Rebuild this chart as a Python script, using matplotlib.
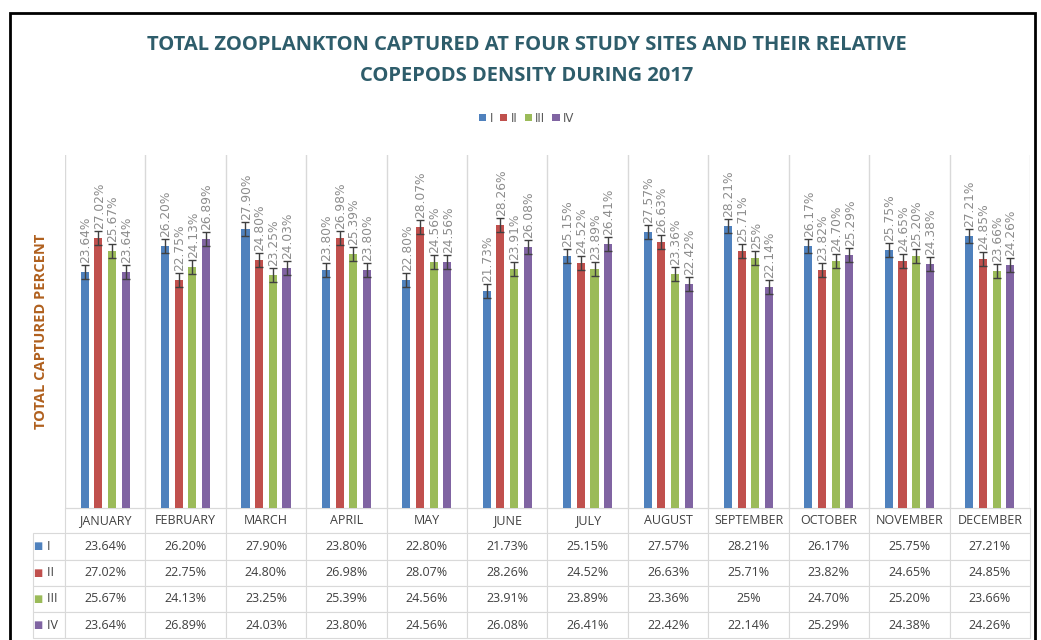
import numpy as np
import matplotlib
matplotlib.use("Agg")
import matplotlib.pyplot as plt
from matplotlib import font_manager
from matplotlib.patches import Rectangle
from matplotlib.table import Table

months = ["JANUARY", "FEBRUARY", "MARCH", "APRIL", "MAY", "JUNE", "JULY",
          "AUGUST", "SEPTEMBER", "OCTOBER", "NOVEMBER", "DECEMBER"]
sites = ["I", "II", "III", "IV"]
site_i = [23.64, 26.20, 27.90, 23.80, 22.80, 21.73, 25.15, 27.57, 28.21, 26.17, 25.75, 27.21]
site_ii = [27.02, 22.75, 24.80, 26.98, 28.07, 28.26, 24.52, 26.63, 25.71, 23.82, 24.65, 24.85]
site_iii = [25.67, 24.13, 23.25, 25.39, 24.56, 23.91, 23.89, 23.36, 25.00, 24.70, 25.20, 23.66]
site_iv = [23.64, 26.89, 24.03, 23.80, 24.56, 26.08, 26.41, 22.42, 22.14, 25.29, 24.38, 24.26]
# labels as printed in the chart (September III shows "25%")
labels_iii = ["25.67%", "24.13%", "23.25%", "25.39%", "24.56%", "23.91%", "23.89%",
              "23.36%", "25%", "24.70%", "25.20%", "23.66%"]
err = 0.7

colors = ["#4F81BD", "#C0504D", "#9BBB59", "#8064A2"]


def pick(names):
    have = {f.name for f in font_manager.fontManager.ttflist}
    for n in names:
        if n in have:
            return n
    return "DejaVu Sans"


narrow = pick(["Liberation Sans Narrow", "Open Sans", "Lato"])
title_font = pick(["Open Sans", "Lato"])

series = [site_i, site_ii, site_iii, site_iv]
fmt = lambda v: "%.2f%%" % v
labels = [[fmt(v) for v in site_i], [fmt(v) for v in site_ii], labels_iii,
          [fmt(v) for v in site_iv]]

fig = plt.figure(figsize=(10.41, 6.4), dpi=100)
ax = fig.add_axes([0.0624, 0.206, 0.927, 0.552])

x = np.arange(len(months))
step = 0.17
width = 0.1
for k, vals in enumerate(series):
    pos = x + (k - 1.5) * step
    ax.bar(pos, vals, width, color=colors[k], label=sites[k], zorder=3)
    ax.errorbar(pos, vals, yerr=err, fmt="none", ecolor="#404040",
                elinewidth=1, capsize=3, capthick=1, zorder=4)
    for p, v, t in zip(pos, vals, labels[k]):
        ax.text(p + 0.01, v + err + 0.2, t, rotation=90, ha="center", va="bottom",
                fontsize=8.8, color="#8C8C8C", zorder=5)

ax.set_xlim(-0.5, 11.5)
ax.set_ylim(0, 35.3)
ax.set_xticks(x)
ax.set_xticklabels([])
ax.set_xticks(np.arange(-0.5, 12, 1), minor=True)
ax.tick_params(which="both", length=0)
ax.set_yticks([])
ax.grid(which="minor", axis="x", color="#D9D9D9", lw=1)
for s in ["top", "right", "left"]:
    ax.spines[s].set_visible(False)
ax.spines["bottom"].set_color("#D9D9D9")

ax.set_ylabel("TOTAL CAPTURED PERCENT", fontsize=10.5, fontweight="bold",
              color="#B0601E", labelpad=12, family=title_font)

# data table under the bars
tbl = Table(ax, bbox=[0, -0.368, 1, 0.368])
rl_w, col_w = 0.033, 1 / 12
head_h, row_h = 0.96, 1.0
for j, m in enumerate(months):
    tbl.add_cell(0, j, col_w, head_h, text=m, loc="center")
for k in range(4):
    tbl.add_cell(k + 1, -1, rl_w, row_h, text="    " + sites[k], loc="left")
    for j in range(12):
        tbl.add_cell(k + 1, j, col_w, row_h, text=labels[k][j], loc="center")
tbl.auto_set_font_size(False)
for (r, c), cell in tbl.get_celld().items():
    cell.set_edgecolor("#D9D9D9")
    cell.set_linewidth(0.8)
    cell.PAD = 0.02
    cell.get_text().set_color("#404040")
    cell.get_text().set_fontsize(9)
    cell.get_text().set_fontfamily(narrow)
ax.add_table(tbl)

fig.canvas.draw()
for k in range(4):
    cell = tbl[(k + 1, -1)]
    ax.text(cell.get_x() + cell.get_width() * 0.14, cell.get_y() + cell.get_height() / 2,
            "\u25A0", color=colors[k], fontsize=7, ha="center", va="center",
            transform=ax.transAxes)

leg = fig.legend(loc="center", bbox_to_anchor=(0.506, 0.815), ncol=4, frameon=False,
                 fontsize=8.5, handlelength=0.6, handleheight=0.6, handletextpad=0.3,
                 columnspacing=0.6)
for t in leg.get_texts():
    t.set_color("#595959")

fig.text(0.506, 0.93, "TOTAL ZOOPLANKTON CAPTURED AT FOUR STUDY SITES AND THEIR RELATIVE",
         ha="center", va="center", fontsize=14.5, fontweight="bold", color="#2E5D6B",
         family=title_font)
fig.text(0.506, 0.882, "COPEPODS DENSITY DURING 2017", ha="center", va="center",
         fontsize=14.5, fontweight="bold", color="#2E5D6B", family=title_font)

fig.patches.append(Rectangle((0.0096, -0.02), 0.985, 1.0, transform=fig.transFigure,
                             fill=False, edgecolor="black", lw=2))

fig.savefig("out.png", dpi=100)
